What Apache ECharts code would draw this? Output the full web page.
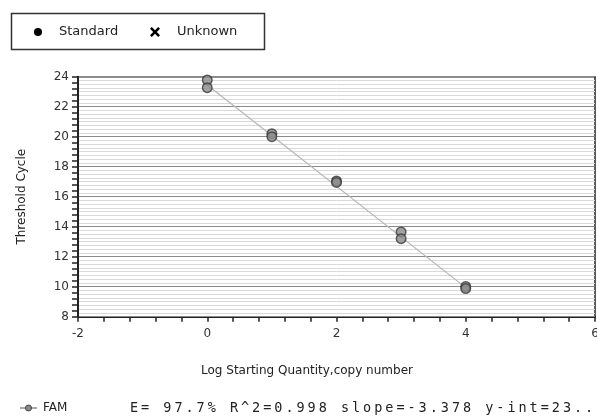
<!DOCTYPE html>
<html>
<head>
<meta charset="utf-8">
<script src="https://cdn.jsdelivr.net/npm/echarts@6/dist/echarts.min.js"></script>
<style>html,body{margin:0;padding:0;background:#fff}#c{width:597px;height:420px}</style>
</head>
<body>
<div id="c"></div>
<script>
// Data
const standardPoints = [
  [0, 23.78], [0, 23.27],
  [1, 20.2], [1, 20.0],
  [2, 17.05], [2, 16.95],
  [3, 13.65], [3, 13.2],
  [4, 10.02], [4, 9.88]
];
const unknownPoints = [];
const fitLine = [[0, 23.45], [4, 9.94]];
const xTicks = { min: -2, max: 6, interval: 2 };
const yTicks = { min: 8, max: 24, interval: 2 };
const legendNames = ['Standard', 'Unknown'];
const xTitle = 'Log Starting Quantity,copy number';
const yTitle = 'Threshold Cycle';
const traceName = 'FAM';
const statsText = 'E= 97.7% R^2=0.998 slope=-3.378 y-int=23..';

const FONT = 'DejaVu Sans';
const chart = echarts.init(document.getElementById('c'), null, { renderer: 'canvas' });

const statsChars = [];
for (let i = 0; i < statsText.length; i++) {
  statsChars.push({
    type: 'text', x: 130 + i * 11.1, y: 408,
    style: { text: statsText[i], font: '13.5px "DejaVu Sans Mono"', fill: '#222', verticalAlign: 'middle', align: 'left' }
  });
}

const option = {
  animation: false,
  grid: { left: 78, right: 2, top: 76.7, bottom: 103.3, outerBoundsMode: 'none', containLabel: false, show: true, borderColor: '#222', borderWidth: 1.5, backgroundColor: 'transparent' },
  xAxis: {
    type: 'value', min: xTicks.min, max: xTicks.max, interval: xTicks.interval,
    axisLine: { onZero: false, lineStyle: { color: '#222', width: 2 } },
    axisTick: { show: true, length: 5, lineStyle: { color: '#222', width: 1.5 } },
    minorTick: { show: true, splitNumber: 5, length: 5, lineStyle: { color: '#222', width: 1.5 } },
    splitLine: { show: false },
    axisLabel: { fontFamily: FONT, fontSize: 12, color: '#333', margin: 11 }
  },
  yAxis: [{
    type: 'value', min: yTicks.min, max: yTicks.max, interval: yTicks.interval, z: 2,
    name: yTitle, nameLocation: 'middle', nameGap: 50,
    nameTextStyle: { fontFamily: FONT, fontSize: 12, color: '#222' },
    axisLine: { show: true, onZero: false, lineStyle: { color: '#222', width: 2 } },
    axisTick: { show: true, length: 6, lineStyle: { color: '#222', width: 1.5 } },
    minorTick: { show: true, splitNumber: 5, length: 6, lineStyle: { color: '#222', width: 1.5 } },
    splitLine: { show: true, lineStyle: { color: '#8a8a8a', width: 1.2 } },
    axisLabel: { fontFamily: FONT, fontSize: 12, color: '#333', margin: 9 }
  }, {
    type: 'value', min: yTicks.min, max: yTicks.max, interval: 0.25, z: 0, position: 'left',
    axisLine: { show: false, onZero: false }, axisTick: { show: false }, axisLabel: { show: false },
    splitLine: { show: true, lineStyle: { color: '#d9d9d9', width: 1 } }
  }],
  series: [{
    type: 'line', name: 'fit', data: fitLine, symbol: 'none', z: 3,
    lineStyle: { color: '#b5b5b5', width: 1.2 }, silent: true
  }, {
    type: 'scatter', name: legendNames[0], data: standardPoints, symbol: 'circle', symbolSize: 9.5, z: 4,
    itemStyle: { color: '#8c8c8c', borderColor: '#3a3a3a', borderWidth: 1.5 }
  }, {
    type: 'scatter', name: legendNames[1], data: unknownPoints, z: 4,
    symbol: 'path://M-5,-3.2L-3.2,-5L0,-1.8L3.2,-5L5,-3.2L1.8,0L5,3.2L3.2,5L0,1.8L-3.2,5L-5,3.2L-1.8,0Z',
    itemStyle: { color: '#000' }
  }],
  graphic: [
    { type: 'rect', shape: { x: 11.5, y: 13.5, width: 253, height: 36 }, style: { fill: '#fff', stroke: '#333', lineWidth: 1.5 } },
    { type: 'circle', shape: { cx: 38, cy: 32, r: 4 }, style: { fill: '#000' } },
    { type: 'text', x: 59, y: 32, style: { text: legendNames[0], font: '13px "DejaVu Sans"', fill: '#222', verticalAlign: 'middle' } },
    { type: 'polygon', x: 155, y: 32, shape: { points: [[-5,-3.2],[-3.2,-5],[0,-1.8],[3.2,-5],[5,-3.2],[1.8,0],[5,3.2],[3.2,5],[0,1.8],[-3.2,5],[-5,3.2],[-1.8,0]] }, style: { fill: '#000' } },
    { type: 'text', x: 177, y: 32, style: { text: legendNames[1], font: '13px "DejaVu Sans"', fill: '#222', verticalAlign: 'middle' } },
    { type: 'text', x: 307, y: 371, style: { text: xTitle, font: '12px "DejaVu Sans"', fill: '#222', align: 'center', verticalAlign: 'middle' } },
    { type: 'line', shape: { x1: 20, y1: 408, x2: 37, y2: 408 }, style: { stroke: '#555', lineWidth: 1 } },
    { type: 'circle', shape: { cx: 28.5, cy: 408, r: 3 }, style: { fill: '#888', stroke: '#444', lineWidth: 1 } },
    { type: 'text', x: 43, y: 408, style: { text: traceName, font: '12px "DejaVu Sans"', fill: '#222', verticalAlign: 'middle' } }
  ].concat(statsChars)
};
chart.setOption(option);
</script>
</body>
</html>
